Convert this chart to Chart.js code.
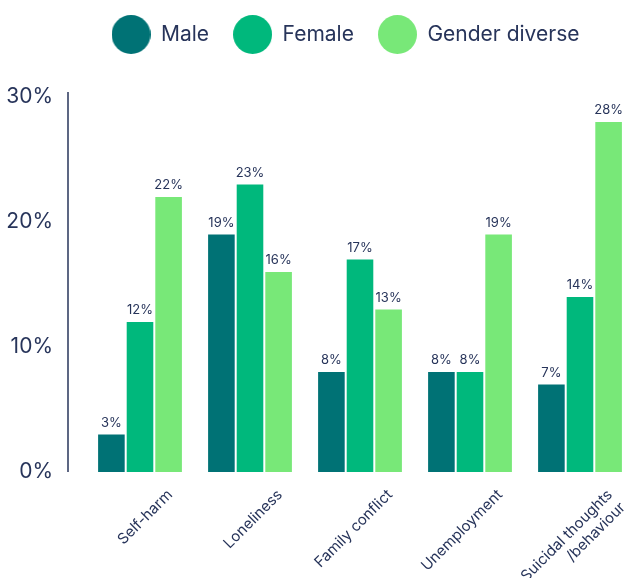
<!DOCTYPE html>
<html lang="en">
<head>
    <meta charset="UTF-8">
    <title>Reasons by gender</title>
    <script src="https://cdn.jsdelivr.net/npm/chart.js"></script>
    <style>
        html, body { margin: 0; padding: 0; background: #fff; }
        #wrap { width: 641px; height: 578px; }
    </style>
</head>
<body>
    <div id="wrap"><canvas id="myChart"></canvas></div>

    <script>
        // categories and series (percent)
        const categories = ['Self-harm', 'Loneliness', 'Family conflict', 'Unemployment', ['Suicidal thoughts', '/behaviour']];
        const male = [3, 19, 8, 8, 7];
        const female = [12, 23, 17, 8, 14];
        const genderDiverse = [22, 16, 13, 19, 28];
        const seriesNames = ['Male', 'Female', 'Gender diverse'];
        const yTicks = [0, 10, 20, 30];

        const colors = ['#007275', '#00b87c', '#78e878'];
        const ink = '#27345a';
        const fontFamily = 'Inter, "Noto Sans", sans-serif';

        // round legend markers
        function dot(color, size) {
            const c = document.createElement('canvas');
            c.width = size; c.height = size;
            const g = c.getContext('2d');
            g.fillStyle = color;
            g.beginPath();
            g.arc(size / 2, size / 2, size / 2, 0, Math.PI * 2);
            g.fill();
            return c;
        }
        const dots = colors.map(c => dot(c, 39));

        // value labels above bars
        const barLabels = {
            id: 'barLabels',
            afterDatasetsDraw(chart) {
                const ctx = chart.ctx;
                ctx.save();
                ctx.font = '13px ' + fontFamily;
                ctx.fillStyle = ink;
                ctx.textAlign = 'center';
                ctx.textBaseline = 'bottom';
                chart.data.datasets.forEach((ds, i) => {
                    chart.getDatasetMeta(i).data.forEach((bar, j) => {
                        ctx.fillText(ds.data[j] + '%', bar.x, bar.y - 5);
                    });
                });
                ctx.restore();
            }
        };

        // vertical axis line, set a little left of the plot
        const axisLine = {
            id: 'axisLine',
            afterDraw(chart) {
                const y = chart.scales.y;
                const x = chart.chartArea.left - 17;
                const ctx = chart.ctx;
                ctx.save();
                ctx.strokeStyle = ink;
                ctx.lineWidth = 1.5;
                ctx.beginPath();
                ctx.moveTo(x, y.getPixelForValue(30) - 5);
                ctx.lineTo(x, y.getPixelForValue(0));
                ctx.stroke();
                ctx.restore();
            }
        };

        // extra room under the legend, and legend nudged right
        const legendGap = {
            id: 'legendGap',
            beforeInit(chart) {
                const fit = chart.legend.fit;
                chart.legend.fit = function () {
                    fit.bind(chart.legend)();
                    this.height += 42;
                };
            },
            afterLayout(chart) {
                chart.legend.left += 56;
            }
        };

        const series = [male, female, genderDiverse];
        const ctx = document.getElementById('myChart').getContext('2d');
        new Chart(ctx, {
            type: 'bar',
            data: {
                labels: categories,
                datasets: series.map((d, i) => ({
                    label: seriesNames[i],
                    data: d,
                    backgroundColor: colors[i],
                    borderWidth: 0,
                    categoryPercentage: 0.78,
                    barPercentage: 0.93
                }))
            },
            options: {
                responsive: true,
                maintainAspectRatio: false,
                animation: false,
                layout: { padding: { left: 0, right: 6, top: 0, bottom: 0 } },
                plugins: {
                    tooltip: { enabled: false },
                    legend: {
                        position: 'top',
                        labels: {
                            usePointStyle: true,
                            pointStyleWidth: 39,
                            padding: 24,
                            color: ink,
                            font: { family: fontFamily, size: 21 },
                            generateLabels: chart => chart.data.datasets.map((ds, i) => ({
                                text: ds.label,
                                fillStyle: ds.backgroundColor,
                                strokeStyle: ds.backgroundColor,
                                lineWidth: 0,
                                pointStyle: dots[i],
                                fontColor: ink,
                                hidden: false,
                                datasetIndex: i
                            }))
                        }
                    }
                },
                scales: {
                    x: {
                        grid: { display: false, drawTicks: false },
                        border: { display: false },
                        afterFit: scale => { scale.height = 106; },
                        ticks: {
                            color: ink,
                            font: { family: fontFamily, size: 15 },
                            minRotation: 45,
                            maxRotation: 45,
                            labelOffset: 30,
                            padding: 14
                        }
                    },
                    y: {
                        min: 0,
                        max: 30,
                        grid: { display: false, drawTicks: false },
                        border: { display: false },
                        afterFit: scale => { scale.width = 85; },
                        ticks: {
                            stepSize: 10,
                            color: ink,
                            font: { family: fontFamily, size: 21 },
                            padding: 32,
                            callback: v => yTicks.includes(v) ? v + '%' : ''
                        }
                    }
                }
            },
            plugins: [barLabels, axisLine, legendGap]
        });
    </script>
</body>
</html>
